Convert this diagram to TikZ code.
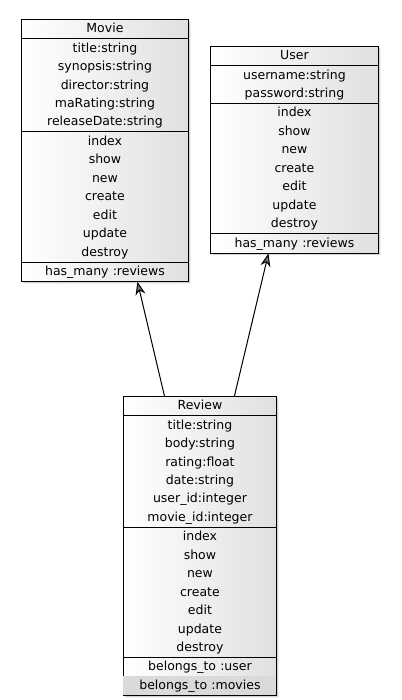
\documentclass[tikz,border=0pt]{standalone}
\usepackage{fontspec}
\setmainfont{DejaVu Sans}
\usetikzlibrary{shapes.multipart,shadows,arrows.meta}
\definecolor{boxgray}{RGB}{224,224,224}
\definecolor{rowgray}{RGB}{218,218,218}

\begin{document}
\begin{tikzpicture}[x=1pt,y=-1pt,
  umlclass/.style={draw=black, line width=0.9pt, rectangle split, rectangle split parts=4,
    inner xsep=0pt, inner ysep=0pt, align=center, anchor=north west,
    left color=white, right color=boxgray,
    drop shadow={shadow xshift=2pt,shadow yshift=-2pt,opacity=0.35},
    font=\fontsize{12.5}{18.45}\selectfont},
  assoc/.style={-{Stealth[length=13pt,width=10pt,inset=4pt,fill=black!55]}, line width=1pt}]
\useasboundingbox (0,0) rectangle (401,700);
\node[umlclass, text width=167pt] (movie) at (21,19) {\strut Movie
  \nodepart{two}\strut title:string\\synopsis:string\\director:string\\maRating:string\\releaseDate:string\strut
  \nodepart{three}\strut index\\show\\new\\create\\edit\\update\\destroy\strut
  \nodepart{four}\strut has\_many :reviews};
\node[umlclass, text width=168pt] (user) at (210,46) {\strut User
  \nodepart{two}\strut username:string\\password:string\strut
  \nodepart{three}\strut index\\show\\new\\create\\edit\\update\\destroy\strut
  \nodepart{four}\strut has\_many :reviews};
\node[umlclass, text width=153pt] (review) at (123,396) {\strut Review
  \nodepart{two}\strut title:string\\body:string\\rating:float\\date:string\\user\_id:integer\\movie\_id:integer\strut
  \nodepart{three}\strut index\\show\\new\\create\\edit\\update\\destroy\strut
  \nodepart{four}\strut belongs\_to :user\\\setlength\fboxsep{0pt}\colorbox{rowgray}{\makebox[153pt]{\strut belongs\_to :movies}}};
\draw[assoc] ([xshift=-35.5pt]review.north) -- ([xshift=32.5pt]movie.south);
\draw[assoc] ([xshift=34.5pt]review.north) -- ([xshift=-26pt]user.south);
\end{tikzpicture}
\end{document}
